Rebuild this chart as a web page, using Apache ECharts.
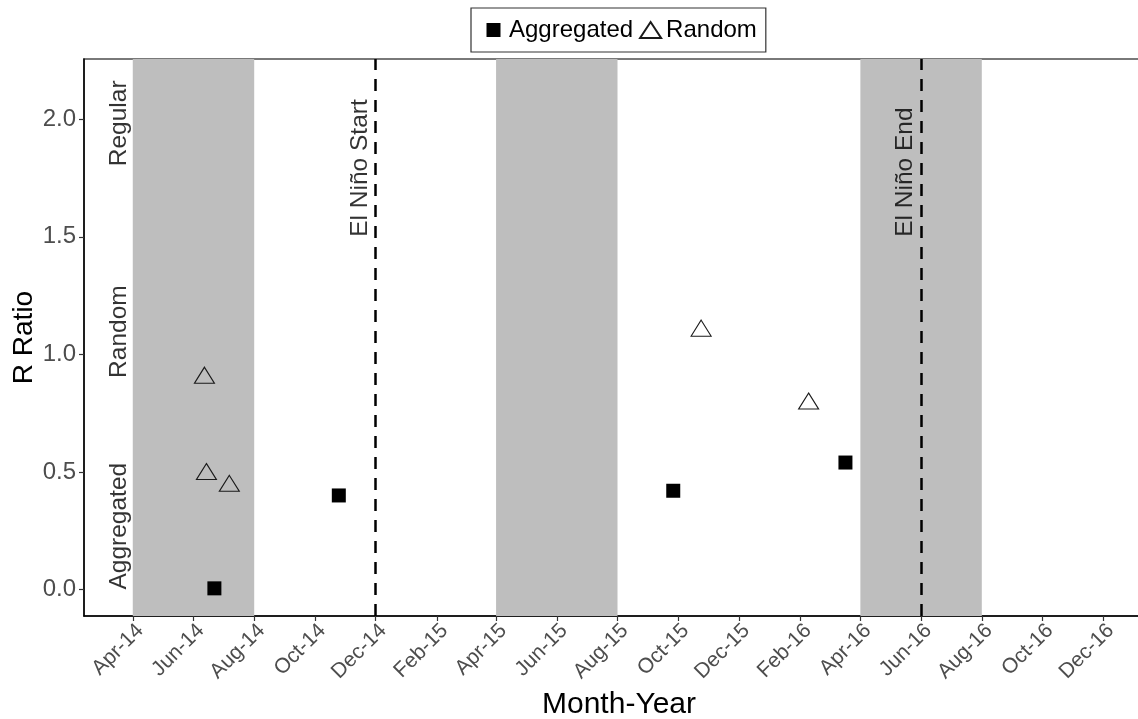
<!DOCTYPE html>
<html>
<head>
<meta charset="utf-8">
<script src="https://cdn.jsdelivr.net/npm/echarts@6/dist/echarts.min.js"></script>
<style>
  html, body { margin: 0; padding: 0; background: #fff; }
  #chart { width: 1138px; height: 719px; }
</style>
</head>
<body>
<div id="chart"></div>
<script>
// Spatial pattern (R ratio) by sampling date
const aggregatedDates = ['2014-06-22', '2014-10-25', '2015-09-26', '2016-03-17'];
const aggregatedValues = [0.005, 0.40, 0.42, 0.54];

const randomDates = ['2014-06-12', '2014-06-14', '2014-07-07', '2015-10-24', '2016-02-09'];
const randomValues = [0.90, 0.49, 0.44, 1.10, 0.79];

// Shaded seasons (Apr–Aug) and El Niño markers
const seasonStarts = ['2014-04-01', '2015-04-01', '2016-04-01'];
const seasonEnds = ['2014-08-01', '2015-08-01', '2016-08-01'];
const ninoDates = ['2014-12-01', '2016-06-01'];
const ninoLabels = ['El Niño Start', 'El Niño End'];
const ninoLabelY = 1.5;

// Pattern class labels along the left edge
const zoneLabels = ['Regular', 'Random', 'Aggregated'];
const zoneLabelY = [1.8, 0.9, 0.0];
const zoneLabelDate = '2014-03-18';

// Axis ticks
const xTickDates = ['2014-04-01', '2014-06-01', '2014-08-01', '2014-10-01', '2014-12-01',
  '2015-02-01', '2015-04-01', '2015-06-01', '2015-08-01', '2015-10-01', '2015-12-01',
  '2016-02-01', '2016-04-01', '2016-06-01', '2016-08-01', '2016-10-01', '2016-12-01'];
const xTickLabels = ['Apr-14', 'Jun-14', 'Aug-14', 'Oct-14', 'Dec-14', 'Feb-15', 'Apr-15',
  'Jun-15', 'Aug-15', 'Oct-15', 'Dec-15', 'Feb-16', 'Apr-16', 'Jun-16', 'Aug-16',
  'Oct-16', 'Dec-16'];
const yTicks = [0, 0.5, 1.0, 1.5, 2.0];

const xMin = '2014-02-11';
const xMax = '2017-01-21';
const yMin = -0.1126;
const yMax = 2.256;

const t = s => Date.UTC(+s.slice(0, 4), +s.slice(5, 7) - 1, +s.slice(8, 10));
const xTickValues = xTickDates.map(t);

const FONT = "'Liberation Sans', Arial, sans-serif";

const chart = echarts.init(document.getElementById('chart'), null, { renderer: 'canvas' });

chart.setOption({
  backgroundColor: '#ffffff',
  animation: false,
  textStyle: { fontFamily: FONT },
  grid: {
    left: 84, top: 59, right: -16, bottom: 103,
    containLabel: false, outerBoundsMode: 'none',
    show: true, borderColor: '#4d4d4d', borderWidth: 1.5, backgroundColor: 'transparent'
  },
  legend: {
    left: 471, top: 8,
    padding: [10, 9, 10, 12],
    borderColor: '#333', borderWidth: 1.2,
    itemGap: 6, itemWidth: 21, itemHeight: 16,
    textStyle: { fontFamily: FONT, fontSize: 24, color: '#000' },
    data: [
      { name: 'Aggregated', icon: 'path://M3.5,1H17.5V15H3.5Z M0,0L0,0 M21,16L21,16' },
      { name: 'Random', icon: 'path://M10.5,0L21,16L0,16Z' }
    ]
  },
  xAxis: {
    type: 'value',
    min: t(xMin), max: t(xMax),
    name: 'Month-Year', nameLocation: 'middle', nameGap: 74,
    nameMoveOverlap: false,
    nameTextStyle: { fontFamily: FONT, fontSize: 30, color: '#000' },
    axisLine: { show: true, onZero: false, lineStyle: { color: '#000', width: 1.5 } },
    axisTick: { show: true, length: 5, customValues: xTickValues, lineStyle: { color: '#333', width: 1.2 } },
    axisLabel: {
      customValues: xTickValues,
      rotate: 45, align: 'right', verticalAlign: 'top', margin: 4,
      fontFamily: FONT, fontSize: 21, color: '#4d4d4d',
      formatter: v => xTickLabels[xTickValues.indexOf(v)] || ''
    },
    splitLine: { show: false }
  },
  yAxis: {
    type: 'value',
    min: yMin, max: yMax,
    name: 'R Ratio', nameLocation: 'middle', nameGap: 46,
    nameMoveOverlap: false,
    nameTextStyle: { fontFamily: FONT, fontSize: 28, color: '#000' },
    axisLine: { show: true, onZero: false, lineStyle: { color: '#000', width: 1.5 } },
    axisTick: { show: true, length: 5, customValues: yTicks, lineStyle: { color: '#333', width: 1.2 } },
    axisLabel: {
      customValues: yTicks, margin: 8,
      fontFamily: FONT, fontSize: 24, color: '#4d4d4d',
      formatter: v => v.toFixed(1)
    },
    splitLine: { show: false }
  },
  series: [
    {
      // seasons, El Niño lines and pattern labels
      name: 'zones',
      type: 'scatter',
      z: 1,
      silent: true,
      symbolSize: 0,
      data: zoneLabels.map((n, i) => [t(zoneLabelDate), zoneLabelY[i], n]),
      label: {
        show: true, position: [0, 0], rotate: 90,
        align: 'left', verticalAlign: 'middle',
        fontFamily: FONT, fontSize: 24.5, color: '#000',
        formatter: p => p.value[2]
      },
      markArea: {
        silent: true,
        itemStyle: { color: '#bebebe', opacity: 1 },
        data: seasonStarts.map((s, i) => [{ xAxis: t(s) }, { xAxis: t(seasonEnds[i]) }])
      },
      markLine: {
        silent: true,
        symbol: 'none',
        label: { show: false },
        lineStyle: { color: '#000', width: 2.5, type: [12, 9] },
        data: ninoDates.map(d => ({ xAxis: t(d) }))
      }
    },
    {
      name: 'nino-labels',
      type: 'scatter',
      z: 3,
      silent: true,
      symbolSize: 0,
      data: ninoDates.map((d, i) => [t(d), ninoLabelY, ninoLabels[i]]),
      label: {
        show: true, position: [0, 0], rotate: 90,
        align: 'left', verticalAlign: 'bottom',
        padding: [0, 0, 3, 0],
        fontFamily: FONT, fontSize: 24.5, color: '#000',
        formatter: p => p.value[2]
      }
    },
    {
      name: 'Aggregated',
      type: 'scatter',
      z: 4,
      symbol: 'rect',
      symbolSize: 14,
      itemStyle: { color: '#000', borderColor: '#000', borderWidth: 0, opacity: 1 },
      data: aggregatedDates.map((d, i) => [t(d), aggregatedValues[i]])
    },
    {
      name: 'Random',
      type: 'scatter',
      z: 4,
      symbol: 'triangle',
      symbolSize: [20, 16],
      symbolOffset: [0, -2.7],
      itemStyle: { color: 'rgba(0,0,0,0)', borderColor: '#1a1a1a', borderWidth: 1.1, opacity: 1 },
      data: randomDates.map((d, i) => [t(d), randomValues[i]])
    }
  ]
});
</script>
</body>
</html>
